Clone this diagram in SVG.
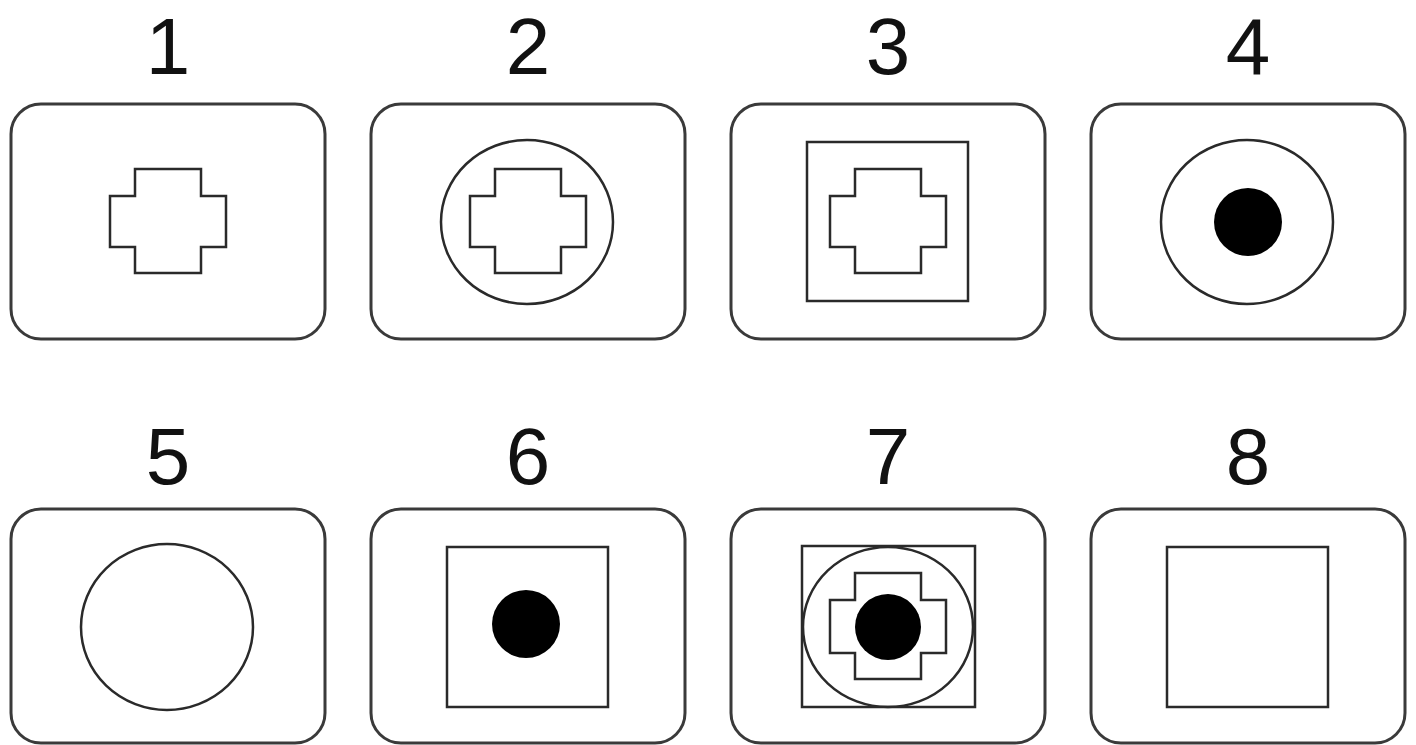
<svg xmlns="http://www.w3.org/2000/svg" width="1416" height="745" viewBox="0 0 1416 745">
<style>
.frame{fill:#fff;stroke:#3a3a3a;stroke-width:3}
.ln{fill:none;stroke:#2a2a2a;stroke-width:2.5}
.dot{fill:#000}
.lbl{font-family:"Liberation Sans",Arial,sans-serif;font-size:80px;fill:#111;text-anchor:middle}
</style>
<defs>
<path id="cross" d="M-33,-52 H33 V-25 H58 V26 H33 V52 H-33 V26 H-58 V-25 H-33 Z"/>
</defs>
<rect width="1416" height="745" fill="#fff"/>
<g id="p1">
<text class="lbl" x="168" y="74">1</text>
<rect class="frame" x="11" y="104" width="314" height="235" rx="30"/>
<use href="#cross" class="ln" x="168" y="221"/>
</g>
<g id="p2">
<text class="lbl" x="528" y="74">2</text>
<rect class="frame" x="371" y="104" width="314" height="235" rx="30"/>
<ellipse class="ln" cx="527" cy="222" rx="86" ry="82"/>
<use href="#cross" class="ln" x="528" y="221"/>
</g>
<g id="p3">
<text class="lbl" x="888" y="74">3</text>
<rect class="frame" x="731" y="104" width="314" height="235" rx="30"/>
<rect class="ln" x="807" y="142" width="161" height="159"/>
<use href="#cross" class="ln" x="888" y="221"/>
</g>
<g id="p4">
<text class="lbl" x="1248" y="74">4</text>
<rect class="frame" x="1091" y="104" width="314" height="235" rx="30"/>
<ellipse class="ln" cx="1247" cy="222" rx="86" ry="82"/>
<circle class="dot" cx="1248" cy="222" r="34"/>
</g>
<g id="p5">
<text class="lbl" x="168" y="484">5</text>
<rect class="frame" x="11" y="509" width="314" height="234" rx="30"/>
<ellipse class="ln" cx="167" cy="627" rx="86" ry="83"/>
</g>
<g id="p6">
<text class="lbl" x="528" y="484">6</text>
<rect class="frame" x="371" y="509" width="314" height="234" rx="30"/>
<rect class="ln" x="447" y="547" width="161" height="160"/>
<circle class="dot" cx="526" cy="624" r="34"/>
</g>
<g id="p7">
<text class="lbl" x="888" y="484">7</text>
<rect class="frame" x="731" y="509" width="314" height="234" rx="30"/>
<rect class="ln" x="802" y="546" width="173" height="161"/>
<ellipse class="ln" cx="888" cy="627" rx="85" ry="80"/>
<path class="ln" d="M855,573 H921 V600 H946 V653 H921 V679 H855 V653 H830 V600 H855 Z"/>
<circle class="dot" cx="888" cy="627" r="33"/>
</g>
<g id="p8">
<text class="lbl" x="1248" y="484">8</text>
<rect class="frame" x="1091" y="509" width="314" height="234" rx="30"/>
<rect class="ln" x="1167" y="547" width="161" height="160"/>
</g>
<g id="connectors"/>
</svg>
